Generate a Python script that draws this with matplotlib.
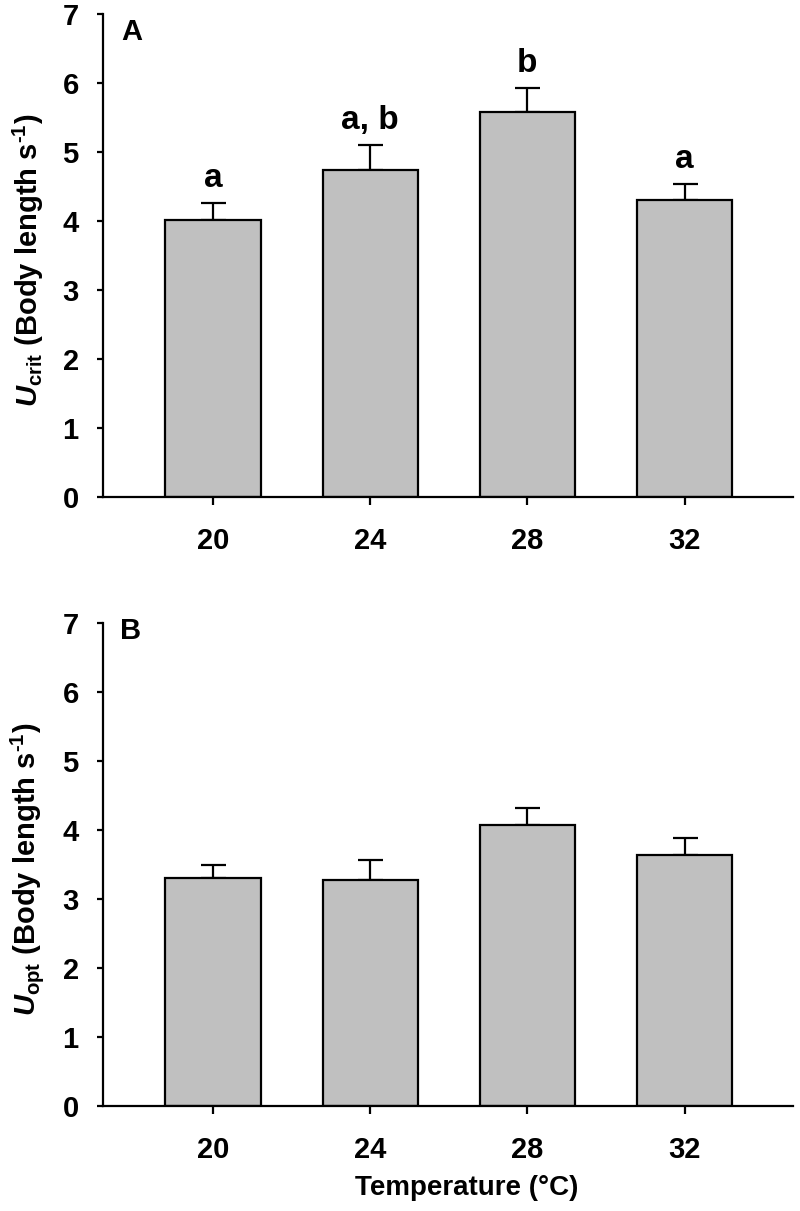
import matplotlib
matplotlib.use("Agg")
import matplotlib.pyplot as plt
import numpy as np

plt.rcParams['font.family'] = ['Liberation Sans', 'DejaVu Sans']
plt.rcParams['font.weight'] = 'bold'
plt.rcParams['mathtext.fontset'] = 'custom'
plt.rcParams['mathtext.rm'] = 'Liberation Sans:bold'
plt.rcParams['mathtext.it'] = 'Liberation Sans:bold:italic'
plt.rcParams['mathtext.bf'] = 'Liberation Sans:bold'

temps = ["20", "24", "28", "32"]
ucrit_mean = [4.01, 4.74, 5.58, 4.30]
ucrit_top = [4.26, 5.10, 5.93, 4.54]
ucrit_letters = ["a", "a, b", "b", "a"]
uopt_mean = [3.31, 3.27, 4.07, 3.64]
uopt_top = [3.49, 3.56, 4.32, 3.89]

W, H = 800, 1211
fig = plt.figure(figsize=(W / 100, H / 100), dpi=100)

def px_axes(left, top, right, bottom):
    return fig.add_axes([left / W, 1 - bottom / H, (right - left) / W, (bottom - top) / H])

axA = px_axes(103, 14, 793, 497)
axB = px_axes(103, 623, 793, 1106)

def draw(ax, means, tops, ylabel, letters=None):
    x = np.arange(len(temps))
    err = np.array(tops) - np.array(means)
    ax.bar(x, means, width=0.605, color='#c0c0c0', edgecolor='black', linewidth=1.6, zorder=2)
    ax.errorbar(x, means, yerr=[np.zeros_like(err), err], fmt='none', ecolor='black',
                elinewidth=1.6, capsize=9, capthick=1.6, zorder=1)
    ax.set_xlim(-0.70, 3.69)
    ax.set_ylim(0, 7)
    ax.set_xticks(x)
    ax.set_xticklabels(temps)
    ax.set_yticks(range(8))
    for s in ['top', 'right']:
        ax.spines[s].set_visible(False)
    for s in ['left', 'bottom']:
        ax.spines[s].set_linewidth(1.6)
    ax.tick_params(axis='y', direction='out', length=4.5, width=1.6, labelsize=21, pad=13)
    ax.tick_params(axis='x', direction='out', length=5.5, width=1.6, labelsize=21, pad=16)
    for lab in ax.get_xticklabels() + ax.get_yticklabels():
        lab.set_fontweight('bold')
    ax.set_ylabel(ylabel, fontsize=21, fontweight='bold')
    ax.yaxis.set_label_coords(-0.083, 0.49)
    if letters is not None:
        for xi, t, l in zip(x, tops, letters):
            ax.annotate(l, (xi, t), xytext=(0, 11.5), textcoords='offset points',
                        ha='center', va='baseline', fontsize=24, fontweight='bold')

draw(axA, ucrit_mean, ucrit_top,
     r"$\mathit{U}_{\mathrm{crit}}$ (Body length s$^{\text{-1}}$)", ucrit_letters)
draw(axB, uopt_mean, uopt_top,
     r"$\mathit{U}_{\mathrm{opt}}$ (Body length s$^{\text{-1}}$)")

axA.text(0.027, 0.992, "A", transform=axA.transAxes, ha='left', va='top',
         fontsize=21, fontweight='bold')
axB.text(0.024, 1.012, "B", transform=axB.transAxes, ha='left', va='top',
         fontsize=21, fontweight='bold')

axB.set_xlabel("Temperature (°C)", fontsize=20, fontweight='bold')
axB.xaxis.set_label_coords(0.527, -0.142)

fig.savefig("out.png", dpi=100)
